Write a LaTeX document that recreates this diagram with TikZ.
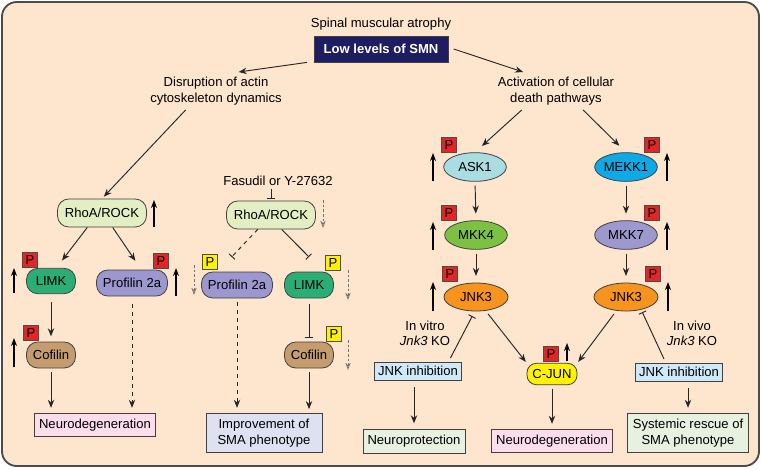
\documentclass[tikz,border=0pt]{standalone}
\usepackage{fontspec}
\setmainfont{Liberation Sans}
\usetikzlibrary{arrows.meta,shapes.geometric}

\definecolor{bgpeach}{HTML}{FDE5CE}
\definecolor{navy}{HTML}{1F1D62}
\definecolor{rhofill}{HTML}{E4EEC3}
\definecolor{limkfill}{HTML}{2BAE76}
\definecolor{proffill}{HTML}{9D97CF}
\definecolor{coffill}{HTML}{C49C6E}
\definecolor{pinkfill}{HTML}{FBDDEB}
\definecolor{lavfill}{HTML}{DDE1F2}
\definecolor{askfill}{HTML}{A9DDE2}
\definecolor{mekkfill}{HTML}{0FA9E6}
\definecolor{mkkfourfill}{HTML}{7DC143}
\definecolor{mkksevenfill}{HTML}{9D98CE}
\definecolor{jnkfill}{HTML}{F7941E}
\definecolor{cjunfill}{HTML}{FFF200}
\definecolor{inhibfill}{HTML}{CFE9F8}
\definecolor{greenfill}{HTML}{E6F1E0}
\definecolor{pred}{HTML}{E42526}
\definecolor{pyellow}{HTML}{FFF200}

\begin{document}
\begin{tikzpicture}[x=0.75pt,y=-0.75pt,
  every node/.style={font=\fontsize{9.8}{12.3}\selectfont, text=black},
  box/.style={draw=black!75, line width=0.6pt, inner sep=1pt, align=center},
  pill/.style={box, rounded corners=8.5pt},
  oval/.style={box, ellipse, inner sep=0pt, minimum width=47pt, minimum height=21.5pt},
  pbox/.style={draw=black!70, line width=0.4pt, minimum size=11.5pt, inner sep=0pt},
  pr/.style={pbox, fill=pred},
  py/.style={pbox, fill=pyellow},
  arr/.style={-{Stealth[length=6pt,width=4.8pt]}, line width=0.7pt, draw=black!85},
  inh/.style={-{Bar[width=6pt]}, line width=0.7pt, draw=black!85},
  uparr/.style={-{Stealth[length=6pt,width=4.5pt]}, line width=0.9pt},
  downarr/.style={-{Stealth[open,length=5.5pt,width=4pt]}, dash pattern=on 2pt off 1.5pt, line width=0.6pt, draw=black!55},
]
\useasboundingbox (0,0) rectangle (762,469);
\draw[fill=bgpeach, draw=black!70, line width=1.4pt, rounded corners=11pt] (2,2) rectangle (759,466);

% top
\node (sma) at (381,24) {Spinal muscular atrophy};
\node[box, fill=navy, text=white, font=\fontsize{9.8}{12}\selectfont\bfseries, minimum width=100.5pt, minimum height=19.5pt] (smn) at (381,49) {Low levels of SMN};
\node[align=center] (disrupt) at (216,91) {Disruption of actin\\cytoskeleton dynamics};
\node[align=center] (death) at (556,91) {Activation of cellular\\death pathways};

% actin branch
\node[pill, fill=rhofill, minimum width=66.75pt, minimum height=21pt] (rhoL) at (102,213) {RhoA/ROCK};
\node[inner sep=1pt] (fas) at (278,181) {Fasudil or Y-27632};
\node[pill, fill=rhofill, minimum width=66.75pt, minimum height=21pt] (rhoR) at (271,215) {RhoA/ROCK};
\node[pill, fill=limkfill, minimum width=36.75pt, minimum height=19pt] (limkL) at (51,281) {LIMK};
\node[pill, fill=proffill, minimum width=53.25pt, minimum height=19.5pt] (profL) at (132,283) {Profilin 2a};
\node[pill, fill=coffill, minimum width=36.75pt, minimum height=19.5pt] (cofL) at (51,355) {Cofilin};
\node[box, fill=pinkfill, minimum width=90.75pt, minimum height=17.25pt] (neuroL) at (95,425) {Neurodegeneration};
\node[pill, fill=proffill, minimum width=53.25pt, minimum height=19.5pt] (profR) at (237,285) {Profilin 2a};
\node[pill, fill=limkfill, minimum width=36.75pt, minimum height=19.5pt] (limkR) at (309,285) {LIMK};
\node[pill, fill=coffill, minimum width=36.75pt, minimum height=19.5pt] (cofR) at (309,355) {Cofilin};
\node[box, fill=lavfill, minimum width=87pt, minimum height=29.25pt, font=\fontsize{9.8}{12}\selectfont] (improve) at (264,433) {Improvement of\\SMA phenotype};

% death branch
\node[oval, fill=askfill] (ask) at (475,167) {ASK1};
\node[oval, fill=mekkfill] (mekk) at (626,167) {MEKK1};
\node[oval, fill=mkkfourfill] (mkk4) at (476,235) {MKK4};
\node[oval, fill=mkksevenfill] (mkk7) at (626,235) {MKK7};
\node[oval, fill=jnkfill, minimum width=48pt, minimum height=21pt] (jnkL) at (476,297) {JNK3};
\node[oval, fill=jnkfill, minimum width=48pt, minimum height=21pt] (jnkR) at (626,297) {JNK3};
\node[pill, fill=cjunfill, rounded corners=7pt, minimum width=37.5pt, minimum height=16pt] (cjun) at (552,374) {C-JUN};
\node[align=center, font=\fontsize{9.8}{11.25}\selectfont] (vitro) at (425,333) {In vitro\\\textit{Jnk3} KO};
\node[align=center, font=\fontsize{9.8}{11.25}\selectfont] (vivo) at (692,333) {In vivo\\\textit{Jnk3} KO};
\node[box, fill=inhibfill, minimum width=65.25pt, minimum height=13.5pt] (inhibL) at (418,371) {JNK inhibition};
\node[box, fill=inhibfill, minimum width=65.25pt, minimum height=13.5pt] (inhibR) at (679,372) {JNK inhibition};
\node[box, fill=greenfill, minimum width=76.5pt, minimum height=18pt] (protect) at (414,441) {Neuroprotection};
\node[box, fill=pinkfill, minimum width=90.75pt, minimum height=17.25pt] (neuroR) at (552,441) {Neurodegeneration};
\node[box, fill=greenfill, minimum width=90.75pt, minimum height=29.25pt, font=\fontsize{9.8}{12}\selectfont] (rescue) at (688,433) {Systemic rescue of\\SMA phenotype};

% P tags
\node[pr] (pLimkL) at (30,260) {P};
\node[pr] (pProfL) at (161,261) {P};
\node[pr] (pCofL) at (31,333) {P};
\node[py] (pProfR) at (210,262) {P};
\node[py] (pLimkR) at (333,263) {P};
\node[py] (pCofR) at (334,334) {P};
\node[pr] (pAsk) at (449,145) {P};
\node[pr] (pMekk) at (652,145) {P};
\node[pr] (pMkk4) at (449,213) {P};
\node[pr] (pMkk7) at (652,213) {P};
\node[pr] (pJnkL) at (450,274) {P};
\node[pr] (pJnkR) at (653,274) {P};
\node[pr] (pCjun) at (551,354) {P};

% connectors
\draw[arr] ([xshift=-5pt]smn.south west) -- (disrupt.40);
\draw[arr] ([xshift=4pt]smn.east) -- (death.150);
\draw[arr, shorten >=2pt] (disrupt.212) -- (rhoL.north);
\draw[arr, shorten >=7pt] (death.209) -- (ask.north);
\draw[arr, shorten >=7pt] (death.-35) -- (mekk.north);

\draw[arr, shorten >=7pt] ([xshift=-11pt]rhoL.south) -- ([xshift=4pt]limkL.north);
\draw[arr, shorten >=8pt] ([xshift=8pt]rhoL.south) -- ([xshift=7pt]profL.north);
\draw[arr, shorten <=6pt, shorten >=4pt] (limkL.south) -- (cofL.north);
\draw[arr, shorten <=3pt, shorten >=4pt] (cofL.south) -- (cofL.south |- neuroL.north);
\draw[arr, dashed, shorten <=6pt, shorten >=4pt] (profL.south) -- (profL.south |- neuroL.north);

\draw[inh, shorten <=1pt, shorten >=1.5pt] (fas.south -| rhoR.north) -- (rhoR.north);
\draw[inh, dashed] ([xshift=-10pt]rhoR.south) -- ([shift={(-4pt,11pt)}]profR.north);
\draw[inh] ([xshift=8pt]rhoR.south) -- ([yshift=11pt]limkR.north);
\draw[inh, shorten <=4pt, shorten >=3pt] (limkR.south) -- (cofR.north);
\draw[arr, shorten <=3pt, shorten >=3pt] (cofR.south) -- (cofR.south |- improve.north);
\draw[arr, dashed, shorten <=3pt, shorten >=4pt] (profR.south) -- (profR.south |- improve.north);

\draw[arr, shorten <=3pt, shorten >=5pt] (ask.south) -- (mkk4.north);
\draw[arr, shorten <=3pt, shorten >=5pt] (mekk.south) -- (mkk7.north);
\draw[arr, shorten <=3pt, shorten >=5pt] (mkk4.south) -- (jnkL.north);
\draw[arr, shorten <=3pt, shorten >=5pt] (mkk7.south) -- (jnkR.north);
\draw[arr, shorten <=3pt, shorten >=1pt] (jnkL.-55) -- (cjun.north west);
\draw[arr, shorten <=3pt, shorten >=1pt] (jnkR.235) -- (cjun.north east);
\draw[arr, shorten <=3pt, shorten >=4pt] (cjun.south) -- (neuroR.north);
\draw[inh, shorten <=3pt, shorten >=4pt] ([xshift=-10pt]inhibL.north east) -- (jnkL.265);
\draw[inh, shorten <=3pt, shorten >=2pt] ([xshift=-10pt]inhibR.north) -- (jnkR.-40);
\draw[arr, shorten <=5pt, shorten >=4pt] (inhibL.south -| protect.north) -- (protect.north);
\draw[arr, shorten <=5pt, shorten >=4pt] (inhibR.south -| rescue.north) -- (rescue.north);

% level changes
\draw[uparr] (154,227) -- (154,200);
\draw[uparr] (14,293) -- (14,268);
\draw[uparr] (176,296) -- (176,268);
\draw[uparr] (14,367) -- (14,338);
\draw[uparr] (433,181) -- (433,153);
\draw[uparr] (667,181) -- (667,153);
\draw[uparr] (433,250) -- (433,222);
\draw[uparr] (667,250) -- (667,222);
\draw[uparr] (433,311) -- (433,282);
\draw[uparr] (668,311) -- (668,282);
\draw[uparr] (567,361) -- (567,343);
\draw[downarr] (323,200) -- (323,228);
\draw[downarr] (194,265) -- (194,295);
\draw[downarr] (348,270) -- (348,300);
\draw[downarr] (348,340) -- (348,370);
\end{tikzpicture}
\end{document}
